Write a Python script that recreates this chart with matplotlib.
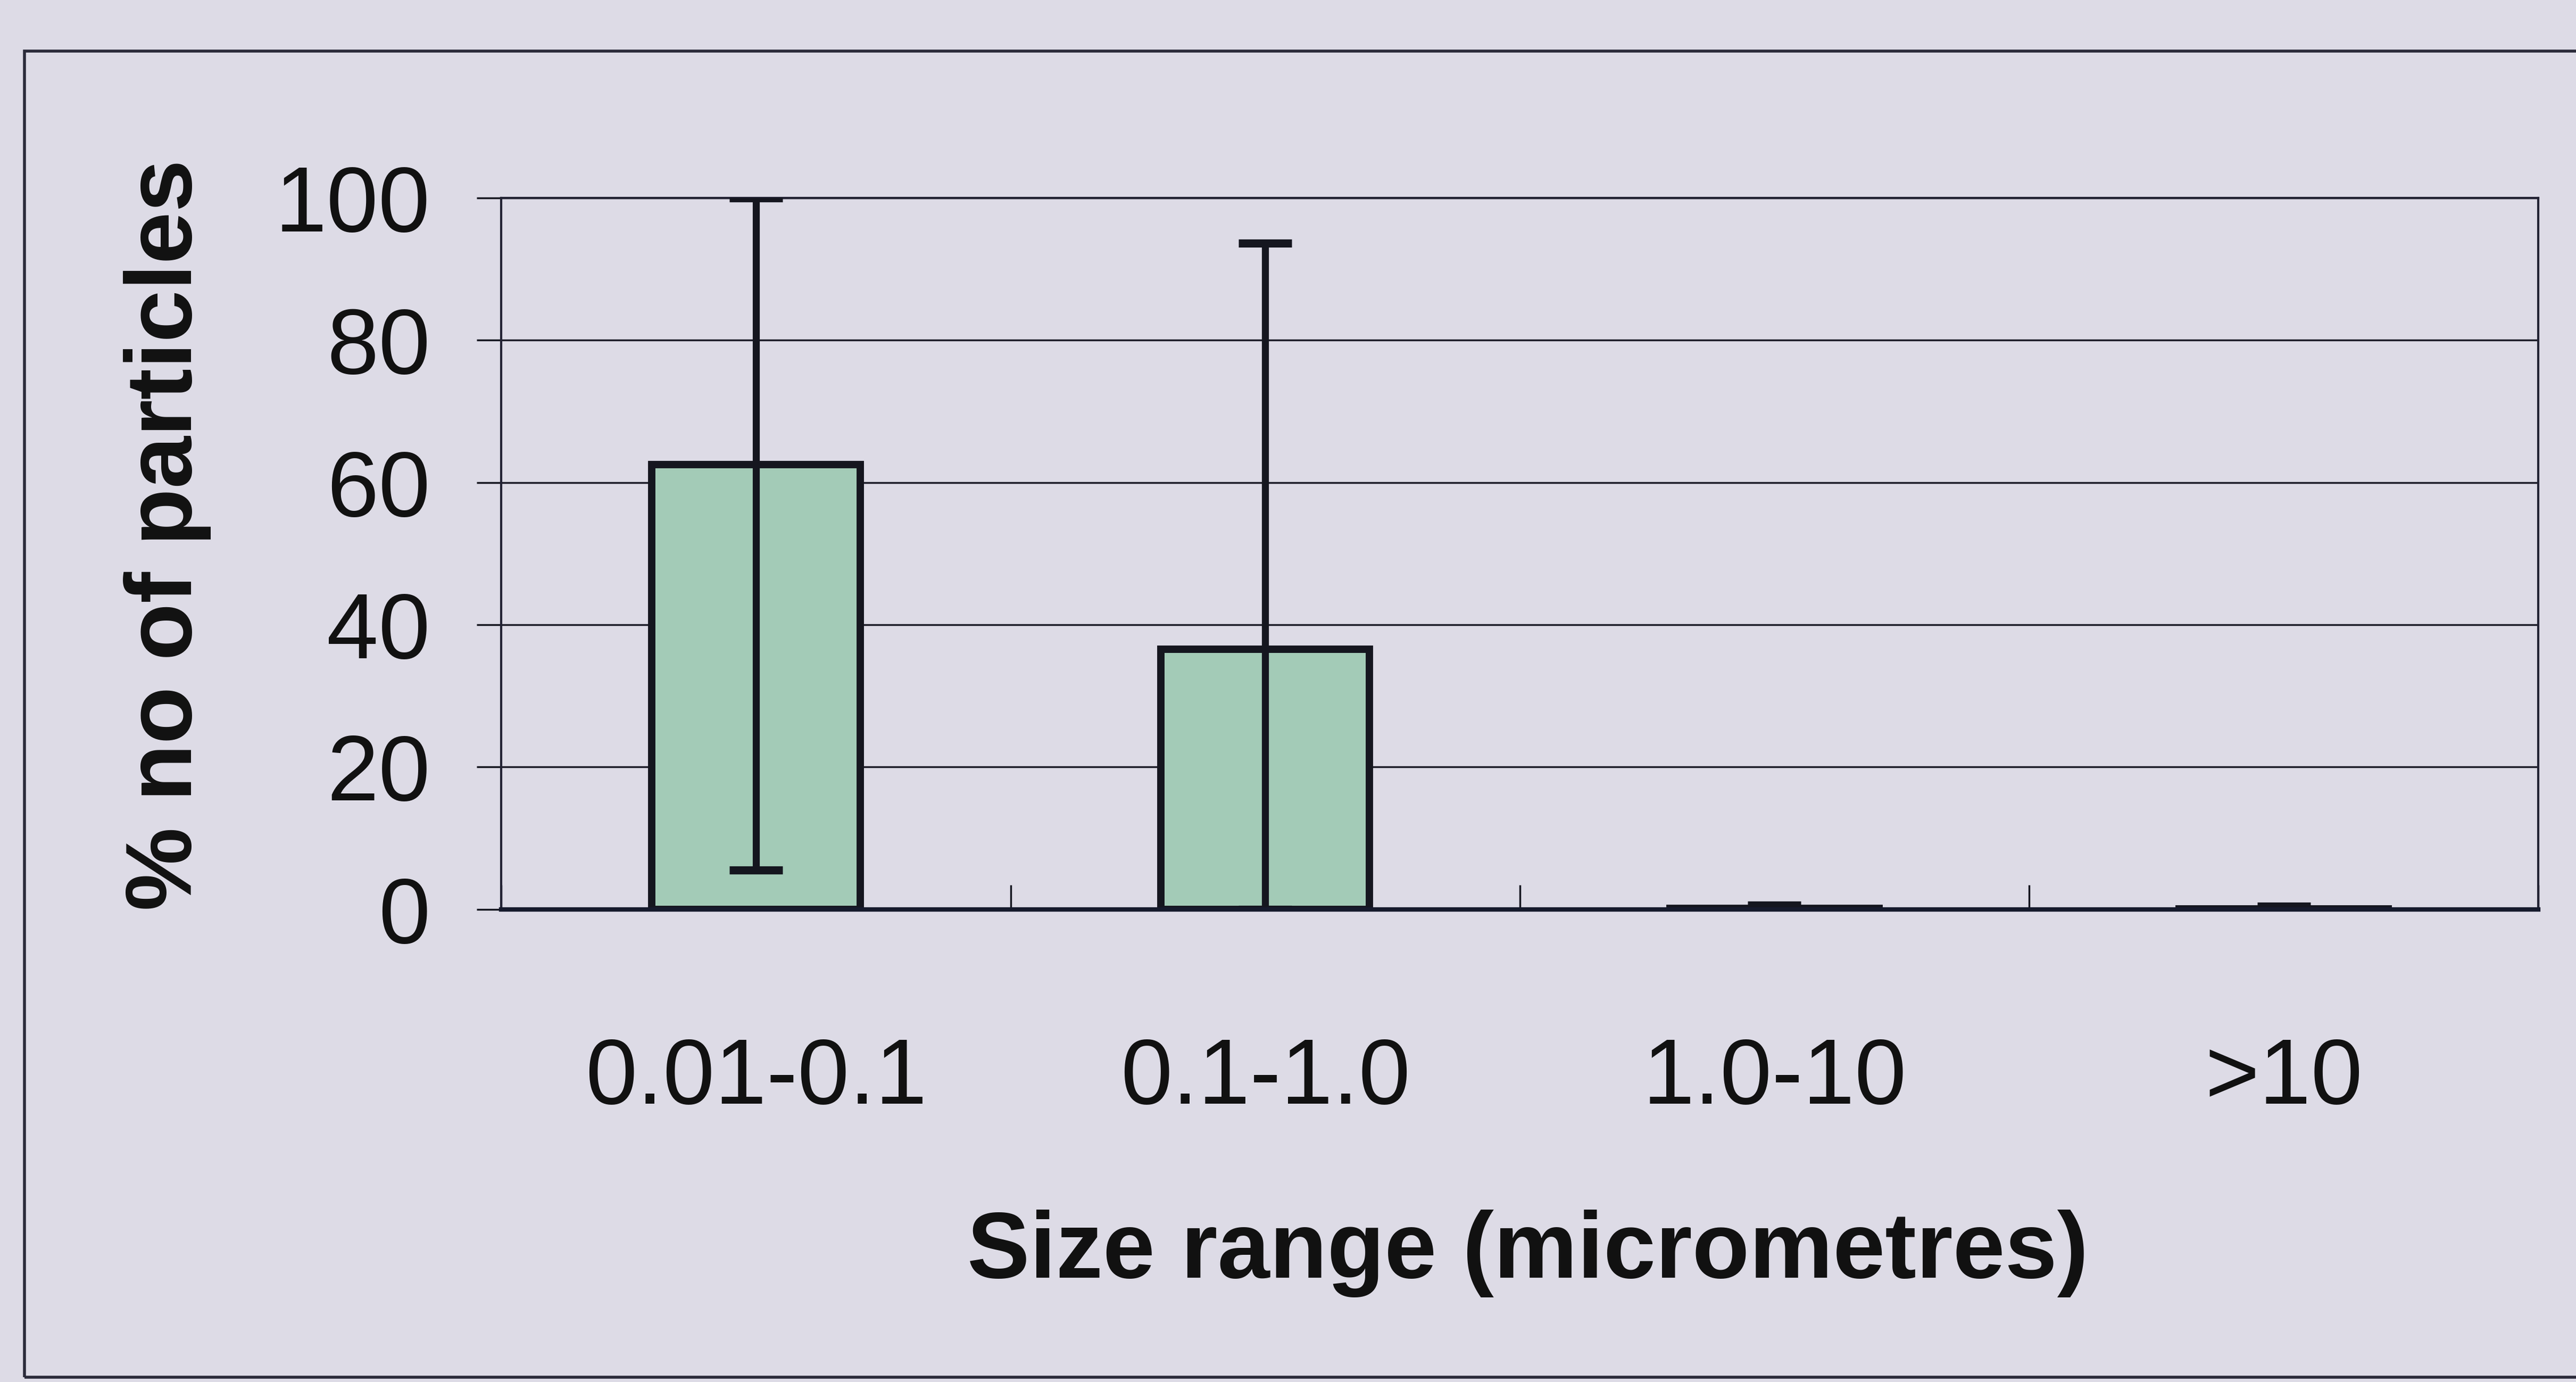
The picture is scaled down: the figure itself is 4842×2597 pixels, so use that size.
import numpy as np
import matplotlib
matplotlib.use("Agg")
import matplotlib.pyplot as plt
from matplotlib.patches import Rectangle
from matplotlib.ticker import FixedLocator

# Particle size distribution: mean % of particles per size class and spread
categories = ["0.01-0.1", "0.1-1.0", "1.0-10", ">10"]
mean_pct = [62.5, 36.6, 0.1, 0.05]
sd_pct = [57.0, 57.0, 0.5, 0.35]
y_ticks = [0, 20, 40, 60, 80, 100]

y_min, y_max = 0, 100

plt.rcParams["font.family"] = ["Liberation Sans", "DejaVu Sans"]

bg = "#dddbe6"
bar_fill = "#a3cbb7"
ink = "#15161f"

fig = plt.figure(figsize=(48.42, 25.97), dpi=100)
fig.patch.set_facecolor(bg)

# Outer chart-area border
fig.add_artist(Rectangle((0.0095, 0.0035), 1.05, 0.9595, transform=fig.transFigure,
                         fill=False, lw=4, ec="#2b2b3a"))

ax = fig.add_axes([0.1946, 0.3420, 0.7908, 0.5148])
ax.set_facecolor(bg)

x = np.arange(len(categories))
mean = np.array(mean_pct)
sd = np.array(sd_pct)

# Error bars are cut at the axis range, as the chart shows them
lower = mean - np.maximum(mean - sd, y_min)
upper = np.minimum(mean + sd, y_max) - mean

ax.bar(x, mean, width=0.41, color=bar_fill, edgecolor=ink, linewidth=10, zorder=3)
ax.errorbar(x, mean, yerr=[lower, upper], fmt="none", ecolor=ink,
            elinewidth=9.5, capsize=36, capthick=11, zorder=4)

ax.set_xlim(-0.5, len(categories) - 0.5)
ax.set_ylim(y_min, y_max)

ax.set_yticks(y_ticks)
ax.set_yticklabels([str(t) for t in y_ticks], fontsize=126, color="#111111")
ax.tick_params(axis="y", direction="out", length=33, width=2.5, color=ink, pad=63)

ax.set_xticks(x)
ax.set_xticklabels(categories, fontsize=126, color="#111111")
ax.tick_params(axis="x", which="major", length=0, pad=172)
ax.xaxis.set_minor_locator(FixedLocator(np.arange(-0.5, len(categories), 1.0)))
ax.tick_params(axis="x", which="minor", direction="in", length=33, width=2.5, color=ink)

ax.yaxis.grid(True, color="#1c1c28", linewidth=2.5, zorder=0)
ax.set_axisbelow(True)

for side in ["left", "top", "right"]:
    ax.spines[side].set_linewidth(3)
    ax.spines[side].set_color("#222233")
ax.spines["bottom"].set_linewidth(6)
ax.spines["bottom"].set_color("#161a2c")
ax.spines["bottom"].set_zorder(5)

fig.text(0.065, 0.613, "% no of particles", rotation=90, ha="center", va="center",
         fontsize=127, fontweight="bold", color="#111111")
fig.text(0.593, 0.0928, "Size range (micrometres)", ha="center", va="center",
         fontsize=127, fontweight="bold", color="#111111")

fig.savefig("out.png", dpi=100, facecolor=bg)
